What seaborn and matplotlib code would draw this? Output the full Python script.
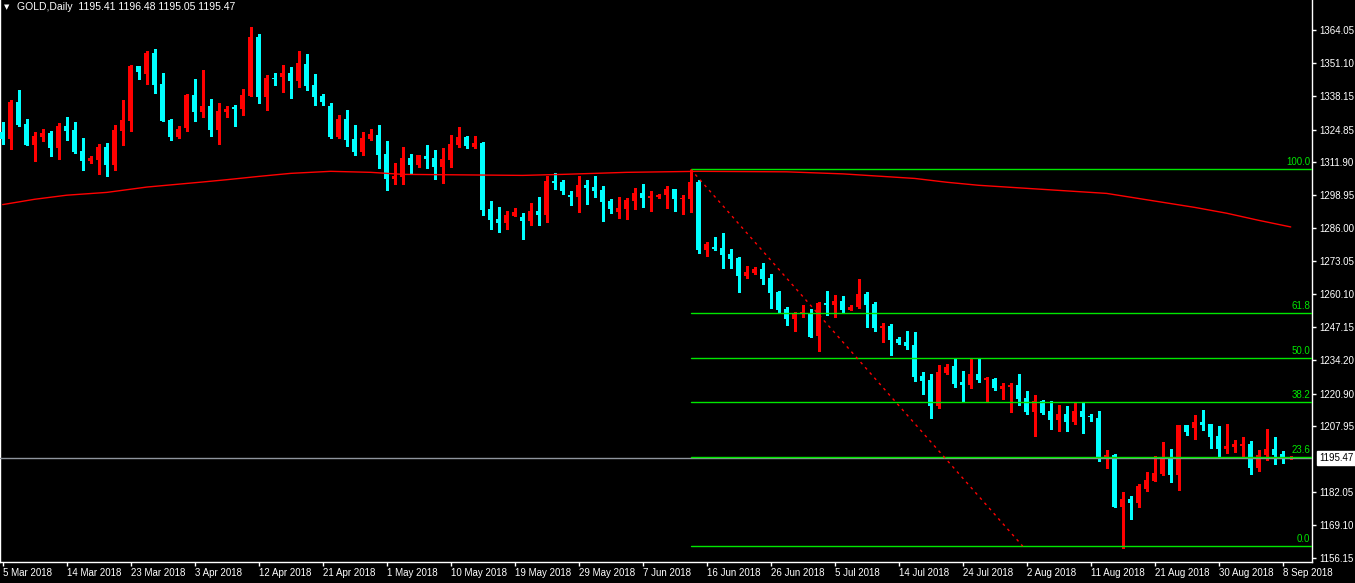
import matplotlib
matplotlib.use('Agg')
import matplotlib.pyplot as plt
import matplotlib.transforms as mtransforms
import numpy as np
import pandas as pd
import seaborn as sns

# daily OHLC, one row per bar (bar 0 = 5 Mar 2018)
opens = [
    1323.9, 1321.3, 1335.7, 1327.0, 1318.9, 1322.1, 1323.5, 1317.7, 1326.3, 1324.7,
    1316.4, 1312.6, 1313.0, 1318.0, 1311.0, 1324.4, 1328.4, 1349.9, 1346.9, 1355.0,
    1342.8, 1328.6, 1322.1, 1325.6, 1338.5, 1331.9, 1334.1, 1324.8, 1331.9, 1333.7,
    1333.0, 1338.1, 1361.3, 1337.7, 1345.2, 1345.6, 1347.1, 1344.0, 1350.7, 1342.4,
    1338.1, 1334.1, 1321.9, 1329.0, 1321.1, 1316.0, 1321.1, 1322.7, 1315.2, 1305.4,
    1306.2, 1313.7, 1310.9, 1314.4, 1313.7, 1310.1, 1312.9, 1318.8, 1321.9, 1318.0,
    1319.6, 1293.6, 1289.6, 1288.1, 1290.8, 1290.4, 1288.8, 1292.8, 1291.2, 1304.6,
    1304.2, 1299.1, 1298.3, 1303.0, 1302.2, 1301.1, 1296.7, 1292.4, 1293.6, 1296.7,
    1299.9, 1297.9, 1298.3, 1299.1, 1301.4, 1297.5, 1297.5, 1304.2, 1277.4, 1278.6,
    1278.2, 1275.9, 1274.3, 1267.2, 1268.4, 1269.9, 1266.4, 1260.9, 1254.2, 1250.3,
    1252.6, 1252.6, 1243.6, 1256.6, 1255.8, 1257.3, 1253.8, 1255.0, 1260.1, 1256.2,
    1246.7, 1247.5, 1242.4, 1241.2, 1240.0, 1227.8, 1226.2, 1216.1, 1229.0, 1231.8,
    1225.5, 1224.4, 1228.6, 1226.4, 1226.6, 1222.8, 1223.6, 1224.3, 1219.2, 1213.8,
    1218.0, 1214.0, 1210.6, 1212.9, 1209.8, 1214.0, 1212.2, 1211.4, 1196.1, 1196.7,
    1176.4, 1179.4, 1177.9, 1183.5, 1186.6, 1189.4, 1195.5, 1188.8, 1208.5, 1207.5,
    1209.7, 1208.9, 1204.2, 1199.2, 1200.0, 1200.4, 1201.0, 1191.7, 1196.7, 1199.1,
    1197.2, 1195.41,
]
highs = [
    1327.8, 1336.5, 1340.4, 1329.0, 1323.9, 1325.1, 1324.3, 1327.3, 1329.8, 1327.8,
    1321.5, 1314.4, 1319.2, 1319.6, 1326.5, 1336.5, 1350.3, 1349.9, 1355.8, 1356.6,
    1347.1, 1329.0, 1326.3, 1338.9, 1344.8, 1348.3, 1336.9, 1335.3, 1334.1, 1334.5,
    1340.8, 1365.2, 1362.5, 1346.3, 1347.1, 1350.3, 1349.5, 1355.8, 1354.6, 1346.7,
    1338.9, 1335.3, 1330.6, 1332.6, 1326.7, 1323.9, 1325.1, 1326.7, 1320.4, 1311.7,
    1318.0, 1315.2, 1314.8, 1318.8, 1316.8, 1317.6, 1322.7, 1325.9, 1322.3, 1322.3,
    1320.0, 1296.7, 1294.4, 1292.8, 1294.0, 1292.0, 1295.9, 1298.3, 1306.6, 1307.7,
    1305.0, 1300.7, 1306.6, 1305.0, 1306.6, 1302.6, 1297.5, 1298.3, 1297.9, 1301.8,
    1303.4, 1300.7, 1299.5, 1302.6, 1301.4, 1299.1, 1308.9, 1305.0, 1280.6, 1282.5,
    1284.1, 1277.8, 1274.7, 1271.1, 1270.7, 1272.3, 1268.0, 1261.3, 1255.0, 1253.0,
    1255.8, 1254.2, 1257.0, 1261.3, 1259.7, 1259.3, 1255.8, 1266.0, 1260.9, 1257.0,
    1248.7, 1248.3, 1243.2, 1245.5, 1245.1, 1229.4, 1228.6, 1232.1, 1232.5, 1234.9,
    1229.8, 1234.5, 1234.9, 1227.6, 1227.0, 1225.1, 1225.1, 1228.6, 1221.9, 1220.3,
    1218.4, 1218.0, 1216.4, 1216.0, 1217.2, 1217.3, 1212.9, 1214.2, 1198.8, 1197.1,
    1182.1, 1180.6, 1185.3, 1190.0, 1196.3, 1201.8, 1199.1, 1208.5, 1208.5, 1212.5,
    1214.4, 1208.9, 1208.1, 1208.9, 1202.6, 1203.8, 1202.2, 1198.7, 1207.0, 1203.8,
    1198.3, 1196.48,
]
lows = [
    1319.3, 1317.3, 1326.3, 1318.9, 1312.6, 1320.5, 1314.6, 1313.4, 1320.9, 1315.5,
    1309.1, 1311.8, 1307.5, 1306.7, 1309.1, 1318.9, 1324.4, 1344.9, 1342.9, 1339.4,
    1328.4, 1320.9, 1321.7, 1324.3, 1328.4, 1329.9, 1322.5, 1319.3, 1329.9, 1326.3,
    1330.6, 1338.1, 1335.3, 1332.6, 1342.4, 1339.6, 1337.3, 1341.6, 1340.4, 1334.5,
    1334.5, 1321.5, 1321.5, 1318.4, 1314.8, 1314.8, 1320.7, 1309.7, 1301.1, 1303.4,
    1303.4, 1307.4, 1310.1, 1309.7, 1305.4, 1303.8, 1310.1, 1318.0, 1317.6, 1317.6,
    1291.2, 1285.7, 1284.5, 1285.7, 1290.8, 1281.8, 1287.3, 1287.3, 1288.5, 1301.4,
    1299.5, 1295.1, 1292.4, 1295.5, 1298.3, 1288.8, 1292.0, 1290.0, 1289.6, 1293.6,
    1294.4, 1292.8, 1297.9, 1294.0, 1292.8, 1291.6, 1292.5, 1276.4, 1275.1, 1277.4,
    1270.3, 1270.3, 1260.9, 1266.4, 1268.0, 1264.0, 1254.6, 1252.6, 1247.9, 1245.5,
    1251.0, 1243.2, 1237.7, 1251.8, 1251.0, 1252.6, 1253.8, 1254.6, 1247.1, 1245.5,
    1241.2, 1236.1, 1240.4, 1238.6, 1226.0, 1220.9, 1211.4, 1215.3, 1228.6, 1223.6,
    1218.1, 1223.2, 1225.6, 1217.7, 1222.4, 1218.9, 1213.8, 1216.5, 1213.0, 1204.3,
    1213.0, 1207.1, 1206.3, 1206.3, 1209.0, 1205.5, 1210.2, 1194.5, 1191.7, 1176.4,
    1160.2, 1171.6, 1176.4, 1182.7, 1186.6, 1189.0, 1186.2, 1183.1, 1204.7, 1203.0,
    1206.7, 1199.6, 1196.1, 1197.5, 1198.0, 1196.1, 1189.4, 1190.5, 1194.9, 1193.3,
    1193.7, 1195.05,
]
closes = [
    1321.3, 1335.7, 1326.8, 1318.9, 1322.3, 1323.5, 1317.7, 1326.3, 1324.4, 1316.0,
    1312.6, 1313.7, 1318.0, 1311.0, 1324.7, 1328.6, 1349.9, 1347.7, 1355.0, 1342.5,
    1328.4, 1322.1, 1325.1, 1338.5, 1331.9, 1334.1, 1324.8, 1332.2, 1333.0, 1333.1,
    1338.5, 1361.3, 1337.7, 1345.2, 1344.9, 1347.1, 1344.0, 1351.1, 1342.0, 1337.7,
    1335.7, 1321.9, 1329.0, 1320.7, 1316.0, 1321.5, 1323.1, 1314.8, 1305.4, 1306.6,
    1313.7, 1310.9, 1314.8, 1313.3, 1310.1, 1313.3, 1319.2, 1321.9, 1318.4, 1319.6,
    1293.2, 1289.2, 1288.1, 1291.2, 1292.4, 1288.8, 1292.8, 1291.2, 1304.6, 1303.8,
    1300.7, 1298.3, 1303.0, 1301.8, 1300.7, 1296.3, 1293.6, 1294.0, 1297.1, 1299.9,
    1297.9, 1298.7, 1299.1, 1301.4, 1297.5, 1297.9, 1304.2, 1277.4, 1279.8, 1277.8,
    1275.5, 1273.9, 1267.2, 1268.8, 1269.9, 1266.0, 1260.5, 1253.8, 1250.3, 1252.2,
    1253.0, 1243.2, 1256.6, 1255.8, 1257.3, 1253.8, 1255.0, 1260.1, 1255.8, 1246.7,
    1247.5, 1242.0, 1240.8, 1239.8, 1227.6, 1226.0, 1216.1, 1229.4, 1231.4, 1224.8,
    1224.4, 1228.6, 1226.4, 1227.2, 1223.2, 1224.0, 1224.4, 1218.9, 1213.8, 1218.0,
    1213.4, 1210.6, 1212.9, 1209.8, 1214.0, 1211.8, 1211.8, 1196.1, 1196.7, 1176.4,
    1179.4, 1177.9, 1184.5, 1186.9, 1189.6, 1195.5, 1188.8, 1208.5, 1205.9, 1209.7,
    1208.7, 1203.9, 1199.2, 1200.3, 1201.0, 1201.0, 1191.7, 1196.7, 1199.1, 1196.7,
    1195.8, 1195.47,
]

# moving average (bar index, price)
ma_bars = [0, 4, 8, 13, 18, 25, 28, 32, 36, 41, 46, 50, 65, 70, 78, 87, 98, 105,
           110, 114, 118, 122, 128, 132, 138, 141, 145, 149, 153, 157, 161]
ma_values = [1295.3, 1297.4, 1299.0, 1300.1, 1302.2, 1304.2, 1305.1, 1306.4, 1307.6,
             1308.4, 1308.0, 1307.2, 1306.8, 1307.2, 1308.0, 1308.4, 1308.2, 1307.4,
             1306.4, 1305.6, 1304.1, 1302.9, 1301.7, 1300.9, 1299.7, 1298.2, 1296.2,
             1294.2, 1291.9, 1289.1, 1286.5]

# fibonacci retracement drawn from the 14 Jun high to the 16 Aug low
fib_anchor_bars = [86, 127.5]
fib_high = 1309.2
fib_low = 1160.8
fib_levels = [0.0, 23.6, 38.2, 50.0, 61.8, 100.0]

date_labels = ['5 Mar 2018', '14 Mar 2018', '23 Mar 2018', '3 Apr 2018', '12 Apr 2018',
               '21 Apr 2018', '1 May 2018', '10 May 2018', '19 May 2018', '29 May 2018',
               '7 Jun 2018', '16 Jun 2018', '26 Jun 2018', '5 Jul 2018', '14 Jul 2018',
               '24 Jul 2018', '2 Aug 2018', '11 Aug 2018', '21 Aug 2018', '30 Aug 2018',
               '8 Sep 2018']
date_every = 8
price_ticks = [1364.05, 1351.10, 1338.15, 1324.85, 1311.90, 1298.95, 1286.00, 1273.05,
               1260.10, 1247.15, 1234.20, 1220.90, 1207.95, 1182.05, 1169.10, 1156.15]

df = pd.DataFrame({'open': opens, 'high': highs, 'low': lows, 'close': closes})
df['bar'] = np.arange(len(df))
df['up'] = df['close'] >= df['open']

BULL = '#ff0000'
BEAR = '#00ffff'
FIB = '#00e600'
TXT = '#ffffff'

sns.set_style('dark')
plt.rcParams['font.family'] = ['Liberation Sans', 'DejaVu Sans']

fig = plt.figure(figsize=(13.55, 5.83), dpi=100, facecolor='black')
ax = fig.add_axes([0, 21 / 583, 1312 / 1355, 562 / 583])
ax.set_facecolor('black')

# candles: wicks then bodies
colors = np.where(df['up'], BULL, BEAR)
ax.vlines(df['bar'], df['low'], df['high'], colors=colors, lw=1, antialiased=False, zorder=2)
body_lo = df[['open', 'close']].min(axis=1)
body_h = (df['close'] - df['open']).abs().clip(lower=0.4)
ax.bar(df['bar'], body_h, bottom=body_lo, width=0.68, color=colors,
       linewidth=0, antialiased=False, zorder=3)

# moving average
sns.lineplot(x=ma_bars, y=ma_values, color='#ff0000', lw=1, ax=ax, zorder=4)

# current price line
last = closes[-1]
ax.axhline(last, color='#8f959e', lw=1, zorder=4)

# fibonacci levels
blend = mtransforms.blended_transform_factory(ax.transAxes, ax.transData)
for lvl in fib_levels:
    p = fib_low + (fib_high - fib_low) * lvl / 100.0
    ax.plot([fib_anchor_bars[0], 170], [p, p], color=FIB, lw=1, zorder=5)
    ax.annotate(f'{lvl:.1f}', xy=(0.9985, p), xycoords=blend, xytext=(0, 1.5),
                textcoords='offset points', ha='right', va='bottom',
                color=FIB, fontsize=7, zorder=6)
ax.plot(fib_anchor_bars, [fib_high, fib_low], color='#ff0000', lw=1,
        linestyle=(0, (2, 3)), zorder=5)

# axes limits / frame
ax.set_xlim(-0.34, 163.66)
ax.set_ylim(1154.57, 1375.86)
for s in ['left', 'right', 'bottom']:
    ax.spines[s].set_visible(True)
    ax.spines[s].set_color('white')
    ax.spines[s].set_linewidth(1)
ax.spines['top'].set_visible(False)
ax.grid(False)

ax.yaxis.tick_right()
ax.set_yticks(price_ticks)
ax.set_yticklabels([f'{v:.2f}' for v in price_ticks])
ax.tick_params(axis='y', which='both', right=True, left=False, length=3, width=1,
               color='white', labelcolor=TXT, labelsize=7, pad=2)
ax.set_xticks(np.arange(len(date_labels)) * date_every)
ax.set_xticklabels(date_labels, ha='left')
ax.tick_params(axis='x', bottom=True, length=3, width=1, color='white',
               labelcolor=TXT, labelsize=7, pad=1)
ax.set_xlabel('')
ax.set_ylabel('')
if ax.get_legend():
    ax.get_legend().remove()

# last price box on the scale
ax.annotate(f'{last:.2f}', xy=(1, last), xycoords=blend, xytext=(5, 0),
            textcoords='offset points', ha='left', va='center', color='black',
            fontsize=7, bbox=dict(boxstyle='square,pad=0.2', fc='white', ec='white'),
            annotation_clip=False)

# header
fig.text(4 / 1355, 1 - 7.5 / 583, '\u25bc', color=TXT, fontsize=5, va='center',
         family='DejaVu Sans')
fig.text(17 / 1355, 1 - 7.5 / 583,
         f'GOLD,Daily  {opens[-1]:.2f} {highs[-1]:.2f} {lows[-1]:.2f} {closes[-1]:.2f}',
         color=TXT, fontsize=7.5, va='center')

fig.savefig('out.png', dpi=100, facecolor='black')
plt.close(fig)
